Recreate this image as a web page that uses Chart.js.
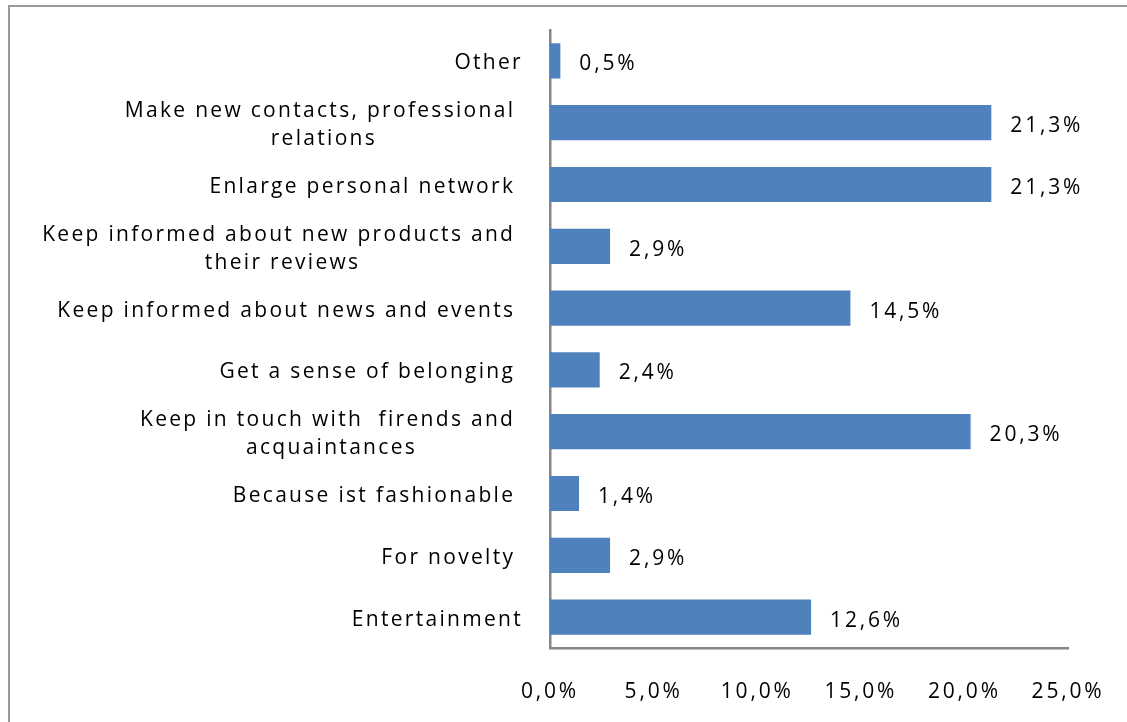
<!DOCTYPE html>
<html>
<head>
<meta charset="utf-8">
<script src="https://cdn.jsdelivr.net/npm/chart.js@4.4.0/dist/chart.umd.min.js"></script>
<style>
  html, body { margin: 0; padding: 0; background: #fff; overflow: hidden; }
  #wrap { position: relative; width: 1127px; height: 722px; }
  #frame {
    position: absolute; left: 8px; top: 5px; width: 1200px; height: 800px;
    border: 2px solid #9a9a9a; box-sizing: border-box; pointer-events: none;
  }
  canvas { position: absolute; left: 0; top: 0; }
</style>
</head>
<body>
<div id="wrap">
  <canvas id="myChart" width="1127" height="722"></canvas>
  <div id="frame"></div>
</div>
<script>
const categories = [
  'Other',
  ['Make new contacts, professional ', 'relations'],
  'Enlarge personal network ',
  ['Keep informed about new products and ', 'their reviews'],
  'Keep informed about news and events ',
  'Get a sense of belonging ',
  ['Keep in touch with  firends and ', 'acquaintances'],
  'Because ist fashionable ',
  'For novelty ',
  'Entertainment'
];
const shares = [0.5, 21.3, 21.3, 2.9, 14.5, 2.4, 20.3, 1.4, 2.9, 12.6];
const axisTicks = [0, 5, 10, 15, 20, 25];

const FONT = '"Open Sans", "Liberation Sans", sans-serif';
const fmt = v => v.toFixed(1).replace('.', ',') + '%';

// category labels: widest line right-aligned, other lines centred under it
const categoryLabels = {
  id: 'categoryLabels',
  afterDraw(chart) {
    const ctx = chart.ctx;
    const y = chart.scales.y;
    const right = chart.chartArea.left - 27;
    ctx.save();
    ctx.letterSpacing = '2.3px';
    ctx.font = '21px ' + FONT;
    ctx.fillStyle = '#000';
    ctx.textBaseline = 'middle';
    ctx.textAlign = 'center';
    categories.forEach((lab, i) => {
      const lines = Array.isArray(lab) ? lab : [lab];
      const widths = lines.map(l => ctx.measureText(l).width);
      const widest = Math.max(...widths);
      const cx = right - widest / 2;
      const cy = y.getPixelForValue(i);
      lines.forEach((l, k) => {
        ctx.fillText(l, cx, cy + (k - (lines.length - 1) / 2) * 28 + 2.5);
      });
    });
    ctx.restore();
  }
};

// percentage next to the end of each bar
const valueLabels = {
  id: 'valueLabels',
  afterDatasetsDraw(chart) {
    const ctx = chart.ctx;
    const meta = chart.getDatasetMeta(0);
    ctx.save();
    ctx.letterSpacing = '2.8px';
    ctx.font = '21px ' + FONT;
    ctx.fillStyle = '#000';
    ctx.textBaseline = 'middle';
    ctx.textAlign = 'left';
    meta.data.forEach((bar, i) => {
      ctx.fillText(fmt(shares[i]), bar.x + 19, bar.y + 3.5);
    });
    ctx.restore();
  }
};

const spacing = {
  id: 'spacing',
  beforeDraw(chart) { chart.ctx.letterSpacing = '2.8px'; }
};

new Chart(document.getElementById('myChart'), {
  type: 'bar',
  data: {
    labels: categories,
    datasets: [{
      data: shares,
      backgroundColor: '#4f81bd',
      borderWidth: 0,
      barPercentage: 0.57,
      categoryPercentage: 1
    }]
  },
  options: {
    indexAxis: 'y',
    responsive: false,
    animation: false,
    layout: { padding: { top: 30, right: 59, bottom: 0, left: 0 } },
    plugins: { legend: { display: false }, tooltip: { enabled: false } },
    scales: {
      x: {
        min: axisTicks[0],
        max: axisTicks[axisTicks.length - 1],
        afterBuildTicks: s => { s.ticks = axisTicks.map(v => ({ value: v })); },
        afterFit: s => { s.height = 74; },
        grid: { display: false },
        border: { display: true, color: '#868686', width: 2.5 },
        ticks: {
          padding: 23,
          color: '#000',
          font: { size: 21, family: FONT },
          maxRotation: 0,
          callback: v => fmt(v)
        }
      },
      y: {
        afterFit: s => { s.width = 550; },
        grid: { display: false },
        border: { display: true, color: '#868686', width: 2.5 },
        ticks: { display: false }
      }
    }
  },
  plugins: [spacing, valueLabels, categoryLabels]
});
</script>
</body>
</html>
